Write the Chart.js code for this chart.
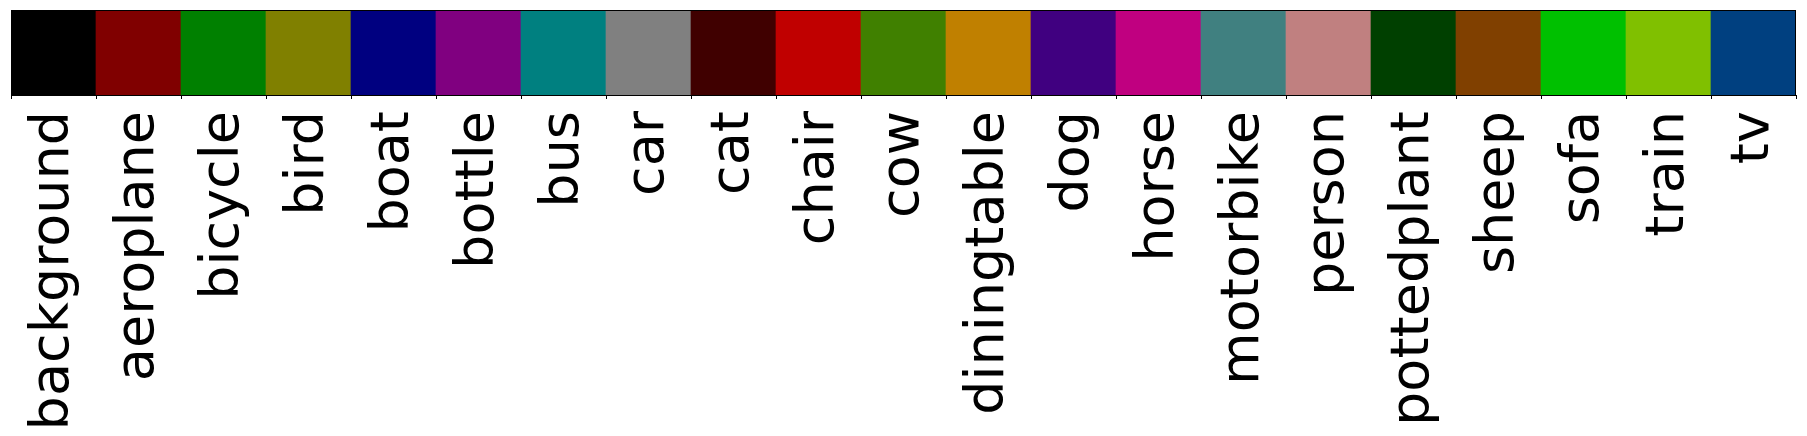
<!DOCTYPE html>
<html>
<head>
<meta charset="utf-8">
<script src="https://cdn.jsdelivr.net/npm/chart.js@4/dist/chart.umd.min.js"></script>
<style>
  html, body { margin: 0; padding: 0; background: #fff; }
  #wrap { width: 1807px; height: 436px; }
</style>
</head>
<body>
<div id="wrap"><canvas id="paletteChart"></canvas></div>
<script>
// PASCAL VOC class names and their label colours
const classNames = [
    'background', 'aeroplane', 'bicycle', 'bird', 'boat', 'bottle', 'bus',
    'car', 'cat', 'chair', 'cow', 'diningtable', 'dog', 'horse', 'motorbike',
    'person', 'pottedplant', 'sheep', 'sofa', 'train', 'tv'
];
const classColors = [
    'rgb(0,0,0)', 'rgb(128,0,0)', 'rgb(0,128,0)', 'rgb(128,128,0)', 'rgb(0,0,128)',
    'rgb(128,0,128)', 'rgb(0,128,128)', 'rgb(128,128,128)', 'rgb(64,0,0)', 'rgb(192,0,0)',
    'rgb(64,128,0)', 'rgb(192,128,0)', 'rgb(64,0,128)', 'rgb(192,0,128)', 'rgb(64,128,128)',
    'rgb(192,128,128)', 'rgb(0,64,0)', 'rgb(128,64,0)', 'rgb(0,192,0)', 'rgb(128,192,0)',
    'rgb(0,64,128)'
];
// every cell fills the full strip height
const cellValues = [1, 1, 1, 1, 1, 1, 1, 1, 1, 1, 1, 1, 1, 1, 1, 1, 1, 1, 1, 1, 1];

// Draws the black frame round the strip
const frameBox = {
    id: 'frameBox',
    afterDatasetsDraw(chart) {
        const { ctx, chartArea: a } = chart;
        ctx.save();
        ctx.strokeStyle = '#000';
        ctx.lineWidth = 1;
        ctx.strokeRect(Math.round(a.left) + 0.5, Math.round(a.top) + 0.5,
            Math.round(a.right - a.left) - 1, Math.round(a.bottom - a.top));
        ctx.restore();
    }
};

new Chart(document.getElementById('paletteChart'), {
    type: 'bar',
    data: {
        labels: classNames,
        datasets: [{
            data: cellValues,
            backgroundColor: classColors,
            borderWidth: 0,
            barPercentage: 1,
            categoryPercentage: 1
        }]
    },
    options: {
        responsive: true,
        maintainAspectRatio: false,
        animation: false,
        layout: { padding: { top: 10, left: 11, right: 11, bottom: 0 } },
        plugins: {
            legend: { display: false },
            tooltip: { enabled: false }
        },
        scales: {
            x: {
                afterFit: (scale) => {
                    scale.height = 341;
                    scale.paddingLeft = 0;
                    scale.paddingRight = 0;
                },
                grid: {
                    drawOnChartArea: false,
                    drawTicks: true,
                    tickLength: 4,
                    tickWidth: 1,
                    color: '#000'
                },
                border: { display: false },
                ticks: {
                    autoSkip: false,
                    maxRotation: 90,
                    minRotation: 90,
                    padding: 12,
                    color: '#000',
                    font: { family: 'DejaVu Sans', size: 54 }
                }
            },
            y: {
                display: false,
                min: 0,
                max: 1
            }
        }
    },
    plugins: [frameBox]
});
</script>
</body>
</html>
